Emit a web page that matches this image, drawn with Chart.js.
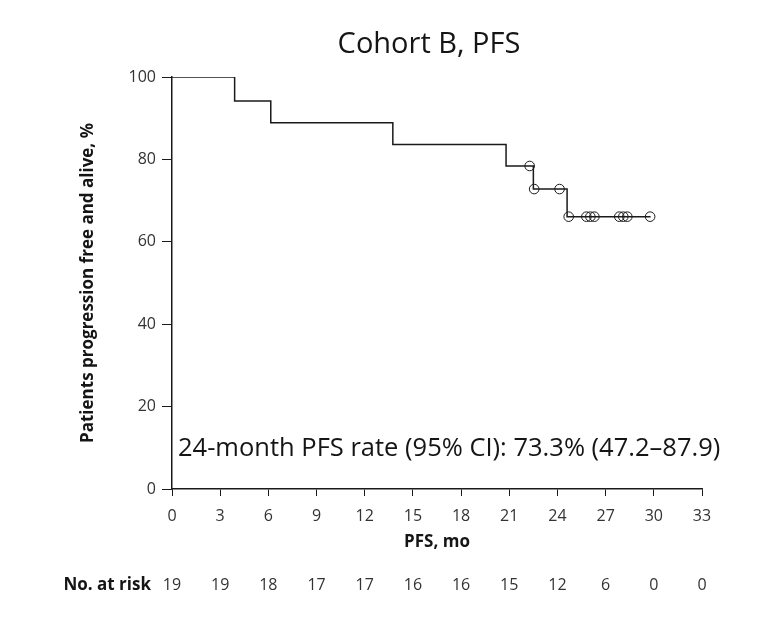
<!DOCTYPE html>
<html>
<head>
<meta charset="utf-8">
<script src="https://cdn.jsdelivr.net/npm/chart.js@4.4.0/dist/chart.umd.min.js"></script>
<style>
  html, body { margin: 0; padding: 0; background: #fff; }
  #wrap { width: 768px; height: 620px; }
</style>
</head>
<body>
<div id="wrap"><canvas id="km"></canvas></div>
<script>
// Kaplan-Meier steps (month of event, % free after event)
var eventMonths = [0, 3.9, 6.15, 13.75, 20.8, 22.5, 24.6, 29.8];
var eventSurvival = [100, 94.2, 88.9, 83.6, 78.4, 72.8, 66.1, 66.1];

// censored patients
var censorMonths = [22.27, 22.55, 24.13, 24.7, 25.8, 26.05, 26.3, 27.85, 28.1, 28.35, 29.77];
var censorSurvival = [78.4, 72.8, 72.8, 66.1, 66.1, 66.1, 66.1, 66.1, 66.1, 66.1, 66.1];

var riskMonths = [0, 3, 6, 9, 12, 15, 18, 21, 24, 27, 30, 33];
var atRisk = [19, 19, 18, 17, 17, 16, 16, 15, 12, 6, 0, 0];

var titleText = 'Cohort B, PFS';
var noteText = '24-month PFS rate (95% CI): 73.3% (47.2\u201387.9)';

function toPoints(xs, ys) {
    return xs.map(function(x, i) { return {x: x, y: ys[i]}; });
}

var textColor = '#151515';
var tickColor = '#333';
var lineColor = '#1a1a1a';

var extraText = {
    id: 'extraText',
    afterDraw: function(chart) {
        var ctx = chart.ctx;
        var area = chart.chartArea;
        var xs = chart.scales.x;
        ctx.save();
        ctx.fillStyle = textColor;

        // title
        ctx.font = '29px "Open Sans"';
        ctx.textAlign = 'center';
        ctx.textBaseline = 'middle';
        ctx.fillText(titleText, (area.left + area.right) / 2 - 8, 45);

        // rate annotation
        ctx.font = '25.5px "Open Sans"';
        ctx.textAlign = 'left';
        ctx.fillText(noteText, area.left + 6, 449);

        // number at risk row
        ctx.font = 'bold 17px "Open Sans"';
        ctx.textAlign = 'right';
        ctx.fillText('No. at risk', area.left - 21, 585);
        ctx.font = '16px "Open Sans"';
        ctx.fillStyle = tickColor;
        ctx.textAlign = 'center';
        riskMonths.forEach(function(m, i) {
            ctx.fillText(String(atRisk[i]), xs.getPixelForValue(m), 585);
        });
        ctx.restore();
    }
};

new Chart(document.getElementById('km'), {
    type: 'scatter',
    data: {
        datasets: [{
            label: 'PFS',
            data: toPoints(eventMonths, eventSurvival),
            showLine: true,
            stepped: true,
            borderColor: lineColor,
            borderWidth: 1.5,
            pointRadius: 0
        }, {
            label: 'Censored',
            data: toPoints(censorMonths, censorSurvival),
            showLine: false,
            pointStyle: 'circle',
            pointRadius: 4.8,
            borderColor: lineColor,
            borderWidth: 1,
            backgroundColor: 'rgba(0,0,0,0)'
        }]
    },
    options: {
        responsive: true,
        maintainAspectRatio: false,
        animation: false,
        layout: { padding: { left: 78, right: 66, top: 77, bottom: 67 } },
        plugins: {
            legend: { display: false },
            tooltip: { enabled: false },
            title: { display: false }
        },
        scales: {
            x: {
                type: 'linear',
                min: 0,
                max: 33,
                afterFit: function(s) { s.height = 64; },
                ticks: {
                    stepSize: 3,
                    padding: 11,
                    color: tickColor,
                    font: { family: 'Open Sans', size: 16 }
                },
                grid: { drawOnChartArea: false, tickLength: 7, color: lineColor },
                border: { color: lineColor, width: 1.5 },
                title: {
                    display: true,
                    text: 'PFS, mo',
                    color: textColor,
                    font: { family: 'Open Sans', size: 17, weight: 'bold' },
                    padding: { top: 2, bottom: 1 }
                }
            },
            y: {
                min: 0,
                max: 100,
                afterFit: function(s) { s.width = 94; },
                ticks: {
                    stepSize: 20,
                    padding: 6,
                    color: tickColor,
                    font: { family: 'Open Sans', size: 16 }
                },
                grid: { drawOnChartArea: false, tickLength: 10, color: lineColor },
                border: { color: lineColor, width: 1.5 },
                title: {
                    display: true,
                    text: 'Patients progression free and alive, %',
                    color: textColor,
                    font: { family: 'Open Sans', size: 17, weight: 'bold' },
                    padding: { top: 0, bottom: 0 }
                }
            }
        }
    },
    plugins: [extraText]
});
</script>
</body>
</html>
